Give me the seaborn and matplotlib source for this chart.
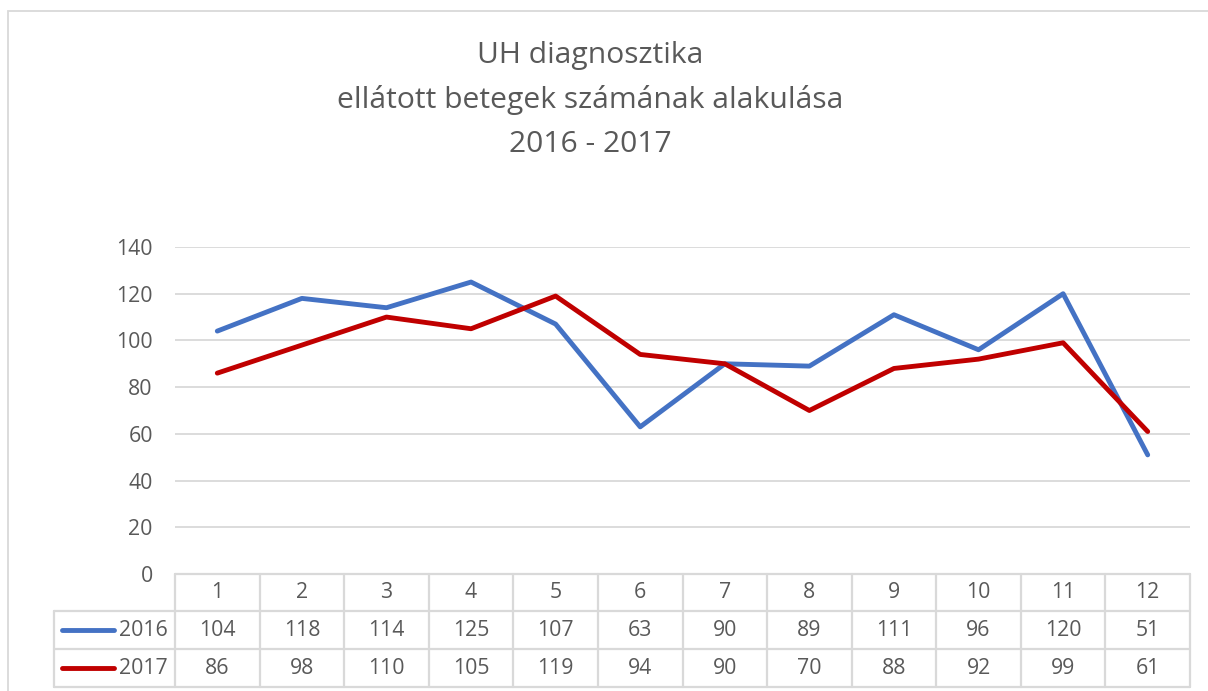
import matplotlib
matplotlib.use("Agg")
import matplotlib.pyplot as plt
import seaborn as sns
import pandas as pd
from matplotlib.lines import Line2D
from matplotlib.patches import Rectangle

months = ["1", "2", "3", "4", "5", "6", "7", "8", "9", "10", "11", "12"]
series_names = ["2016", "2017"]
values_2016 = [104, 118, 114, 125, 107, 63, 90, 89, 111, 96, 120, 51]
values_2017 = [86, 98, 110, 105, 119, 94, 90, 70, 88, 92, 99, 61]
title_lines = ["UH diagnosztika", "ellátott betegek számának alakulása", "2016 - 2017"]
yticks = [0, 20, 40, 60, 80, 100, 120, 140]

colors = {"2016": "#4472C4", "2017": "#C00000"}
text_color = "#595959"
grid_color = "#D9D9D9"

sns.set_theme(style="white")
plt.rcParams["font.family"] = ["Open Sans", "DejaVu Sans"]

W, H = 1208, 691
fig = plt.figure(figsize=(W / 100, H / 100), dpi=100)

ax_left, ax_right, ax_top, ax_bot = 175, 1190, 247, 574
ax = fig.add_axes([ax_left / W, 1 - ax_bot / H, (ax_right - ax_left) / W, (ax_bot - ax_top) / H])

rows = []
for name, vals in zip(series_names, [values_2016, values_2017]):
    for i, v in enumerate(vals):
        rows.append({"pos": i, "month": months[i], "value": v, "year": name})
df = pd.DataFrame(rows)

sns.lineplot(data=df, x="pos", y="value", hue="year", palette=colors, linewidth=3.5,
             ax=ax, legend=False, sort=False)
for l in ax.lines:
    l.set_solid_capstyle("round")
    l.set_solid_joinstyle("round")

fs = 15.3
ax.set_xlim(-0.5, 11.5)
ax.set_ylim(0, 140)
ax.set_yticks(yticks)
ax.set_yticklabels([str(t) for t in yticks], color=text_color, fontsize=fs)
ax.tick_params(axis="y", length=0, pad=16)
ax.set_xticks([])
ax.set_xlabel("")
ax.set_ylabel("")
for s in ax.spines.values():
    s.set_visible(False)
for t in yticks[1:]:
    ax.axhline(t, color=grid_color, lw=1.3, zorder=0)

# data table under the axes
unit = (ax_right - ax_left) / len(months)
def dx(px):
    return -0.5 + (px - ax_left) / unit
def fy(py):
    return (ax_bot - py) / (ax_bot - ax_top)

trans = ax.get_xaxis_transform()
row_tops = [574, 611, 649, 687]
left_px = 54
tlw = 1.6
ax.add_line(Line2D([-0.5, 11.5], [fy(574), fy(574)], transform=trans, color=grid_color, lw=tlw, clip_on=False))
for py in row_tops[1:]:
    ax.add_line(Line2D([dx(left_px), 11.5], [fy(py), fy(py)], transform=trans, color=grid_color, lw=tlw, clip_on=False))
for k in range(len(months) + 1):
    xv = -0.5 + k
    ax.add_line(Line2D([xv, xv], [fy(574), fy(687)], transform=trans, color=grid_color, lw=tlw, clip_on=False))
ax.add_line(Line2D([dx(left_px), dx(left_px)], [fy(611), fy(687)], transform=trans, color=grid_color, lw=tlw, clip_on=False))

def row_center(i):
    return fy((row_tops[i] + row_tops[i + 1]) / 2)

for i, m in enumerate(months):
    ax.text(i, row_center(0), m, transform=trans, ha="center", va="center", color=text_color, fontsize=fs)
for r, (name, vals) in enumerate(zip(series_names, [values_2016, values_2017]), start=1):
    yc = row_center(r)
    for i, v in enumerate(vals):
        ax.text(i, yc, str(v), transform=trans, ha="center", va="center", color=text_color, fontsize=fs)
    ax.add_line(Line2D([dx(62), dx(114)], [yc, yc], transform=trans, color=colors[name], lw=3.5,
                       solid_capstyle="round", clip_on=False))
    ax.text(dx(168), yc, name, transform=trans, ha="right", va="center", color=text_color, fontsize=fs)

# title
for txt, py in zip(title_lines, [56, 100, 144]):
    fig.text(590 / W, 1 - py / H, txt, ha="center", va="center", color=text_color, fontsize=21.6)

# chart border
fig.add_artist(Rectangle((8 / W, -0.1), 1.2, 1 - 11 / H + 0.1, transform=fig.transFigure,
                         fill=False, edgecolor=grid_color, lw=1.3))

fig.savefig("out.png", dpi=100, facecolor="white")
